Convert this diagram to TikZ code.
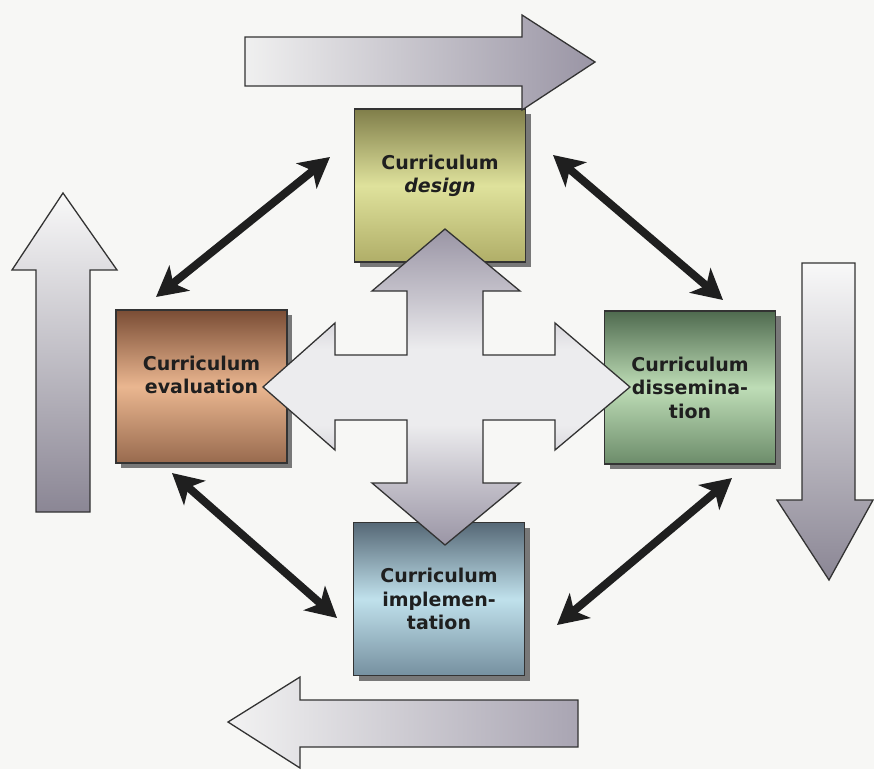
\documentclass[tikz,border=0pt]{standalone}
\usepackage{fontspec}
\setsansfont{DejaVu Sans}
\usetikzlibrary{arrows.meta,shadows}

\definecolor{bgcol}{HTML}{F7F7F5}
\definecolor{arrgray}{HTML}{9A95A5}
\definecolor{arrlight}{HTML}{ECECEE}
\colorlet{arrmid}{arrgray!55!white}
\definecolor{desA}{HTML}{807E4A}
\definecolor{desB}{HTML}{DFE29C}
\definecolor{desC}{HTML}{B0AE68}
\definecolor{evaA}{HTML}{7A4D35}
\definecolor{evaB}{HTML}{EAB690}
\definecolor{evaC}{HTML}{986A4E}
\definecolor{disA}{HTML}{4F6A4F}
\definecolor{disB}{HTML}{BEDDB6}
\definecolor{disC}{HTML}{6C8C6A}
\definecolor{impA}{HTML}{566876}
\definecolor{impB}{HTML}{C0E1EC}
\definecolor{impC}{HTML}{7690A0}

\pgfdeclareverticalshading{crossshade}{100bp}{color(0bp)=(arrgray); color(25bp)=(arrgray); color(36bp)=(arrmid); color(44bp)=(arrlight); color(56bp)=(arrlight); color(64bp)=(arrmid); color(75bp)=(arrgray); color(100bp)=(arrgray)}

\begin{document}
\begin{tikzpicture}[x=1pt,y=-1pt,
  phase/.style={draw=black!80, line width=1.5pt, minimum width=171pt, minimum height=153pt,
    inner sep=0pt, align=center, text=black!88,
    font=\sffamily\bfseries\fontsize{19}{23.5}\selectfont,
    drop shadow={shadow xshift=5pt, shadow yshift=-5pt, fill=black!65, opacity=0.8}},
  blockarrow/.style={draw=black!80, line width=1.3pt, line join=miter},
  link/.style={line width=8pt, draw=black!88,
    {Stealth[length=30pt,width=32pt,inset=8pt]}-{Stealth[length=30pt,width=32pt,inset=8pt]}}]

\fill[bgcol] (0,0) rectangle (874,769);
\useasboundingbox (0,0) rectangle (874,769);

\node[phase, top color=desA, bottom color=desC, middle color=desB] (design) at (440,185.5) {Curriculum\\{\itshape design}\\\mbox{}};
\node[phase, top color=evaA, bottom color=evaC, middle color=evaB] (evaluation) at (201.5,386.5) {Curriculum\\evaluation\\\mbox{}};
\node[phase, top color=disA, bottom color=disC, middle color=disB] (dissemination) at (690,387.5) {Curriculum\\dissemina-\\tion};
\node[phase, top color=impA, bottom color=impC, middle color=impB] (implementation) at (439,599) {Curriculum\\implemen-\\tation};

\draw[blockarrow, shading=crossshade] (445,229) -- (520,291) -- (483,291) -- (483,355) -- (555,355) -- (555,323) -- (630,387) -- (555,450) -- (555,420) -- (483,420) -- (483,483) -- (520,483) -- (445,545) -- (372,483) -- (407,483) -- (407,420) -- (335,420) -- (335,450) -- (263,387) -- (335,323) -- (335,355) -- (407,355) -- (407,291) -- (372,291) -- cycle;

\draw[blockarrow, left color=white!88!gray, right color=arrgray] (245,37) -- (522,37) -- (522,15) -- (595,62) -- (522,110) -- (522,86) -- (245,86) -- cycle;
\draw[blockarrow, left color=white!90!gray, right color=arrgray!85!white] (578,700) -- (300,700) -- (300,677) -- (228,722) -- (300,768) -- (300,747) -- (578,747) -- cycle;
\draw[blockarrow, top color=white!95!gray, bottom color=arrgray!90!black] (36,512) -- (36,270) -- (12,270) -- (63,193) -- (117,270) -- (90,270) -- (90,512) -- cycle;
\draw[blockarrow, top color=white!95!gray, bottom color=arrgray!90!black] (802,263) -- (855,263) -- (855,500) -- (873,500) -- (829,580) -- (777,500) -- (802,500) -- cycle;

\coordinate (ed0) at (156,297);
\coordinate (ed1) at (330,157);
\coordinate (dd0) at (553,155);
\coordinate (dd1) at (723,300);
\coordinate (ei0) at (172,473);
\coordinate (ei1) at (337,618);
\coordinate (id0) at (557,625);
\coordinate (id1) at (732,478);
\draw[link](ed0) -- (ed1);
\draw[link](dd0) -- (dd1);
\draw[link](ei0) -- (ei1);
\draw[link](id0) -- (id1);
\end{tikzpicture}
\end{document}
